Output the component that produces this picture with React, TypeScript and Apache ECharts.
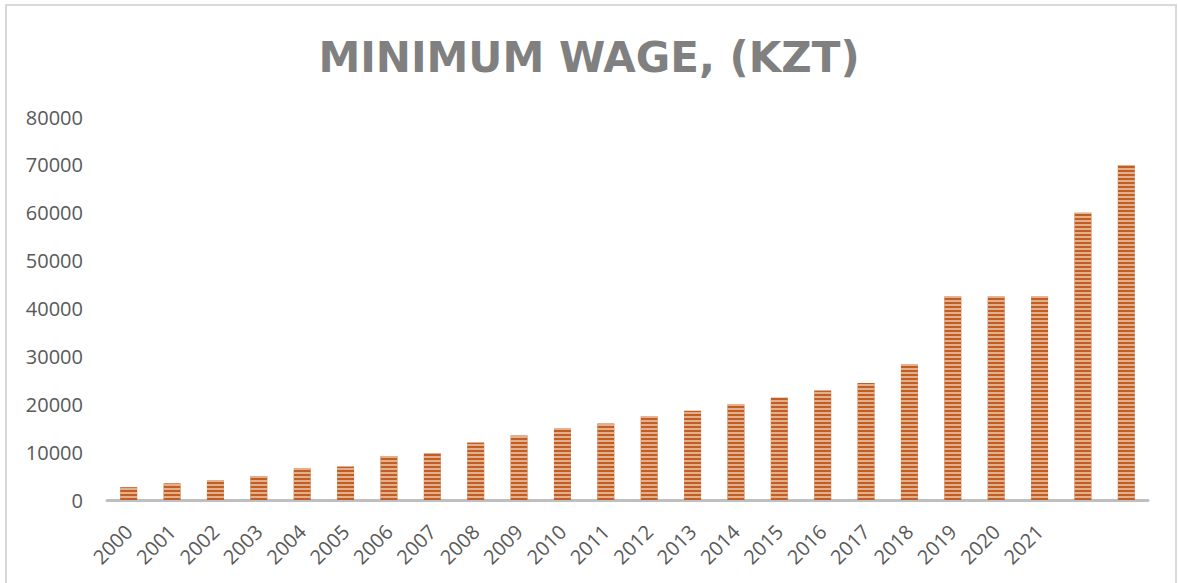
import React, { useEffect, useRef } from "react";
import * as echarts from "echarts";

// 24 bars; the year labels run under the first 22 of them, the last two are unlabeled
const categories = [
  "2000", "2001", "2002", "2003", "2004", "2005", "2006", "2007", "2008", "2009", "2010",
  "2011", "2012", "2013", "2014", "2015", "2016", "2017", "2018", "2019", "2020", "2021",
  "", " ",
];
const wages = [
  2680, 3484, 4181, 5000, 6600, 7000, 9200, 9752, 12025, 13470, 14952,
  15999, 17439, 18660, 19966, 21364, 22859, 24459, 28284,
  42500, 42500, 42500, 60000, 70000,
];
const yTicks = { min: 0, max: 80000, interval: 10000 };
const title = "MINIMUM WAGE, (KZT)";

export default function App() {
  const ref = useRef<HTMLDivElement>(null);
  useEffect(() => {
    if (!ref.current) return;
    const chart = echarts.init(ref.current, null, { renderer: "svg" });
    chart.setOption({
      animation: false,
      backgroundColor: "#ffffff",
      title: {
        text: title,
        left: "center",
        top: 31,
        textStyle: {
          fontFamily: "DejaVu Sans",
          fontWeight: "bold",
          fontSize: 42,
          color: "#808080",
        },
      },
      graphic: [
        {
          type: "rect",
          shape: { x: 6, y: 5, width: 1170, height: 620 },
          style: { fill: "none", stroke: "#d9d9d9", lineWidth: 2 },
          silent: true,
        },
      ],
      grid: { left: 107, right: 30, top: 117, bottom: 83 },
      xAxis: {
        type: "category",
        data: categories,
        axisLine: { lineStyle: { color: "#bfbfbf", width: 3 } },
        axisTick: { show: false },
        axisLabel: {
          interval: 0,
          rotate: 45,
          color: "#595959",
          fontFamily: "Open Sans",
          fontSize: 20,
          margin: 28,
        },
      },
      yAxis: {
        type: "value",
        min: yTicks.min,
        max: yTicks.max,
        interval: yTicks.interval,
        splitLine: { show: false },
        axisLine: { show: false },
        axisTick: { show: false },
        axisLabel: {
          color: "#595959",
          fontFamily: "Open Sans",
          fontSize: 20,
          margin: 24,
          formatter: (v: number) => String(v),
        },
      },
      series: [
        {
          type: "bar",
          data: wages,
          barWidth: 17,
          itemStyle: {
            color: "#c25e24",
            decal: {
              symbol: "rect",
              symbolSize: 1,
              dashArrayX: [1, 0],
              dashArrayY: [2, 2],
              rotation: 0,
              color: "rgba(232, 190, 160, 0.85)",
            },
          },
        },
      ],
    });
    return () => chart.dispose();
  }, []);
  return (
    <div
      ref={ref}
      style={{ position: "fixed", left: 0, top: 0, width: 1178, height: 583 }}
    />
  );
}
